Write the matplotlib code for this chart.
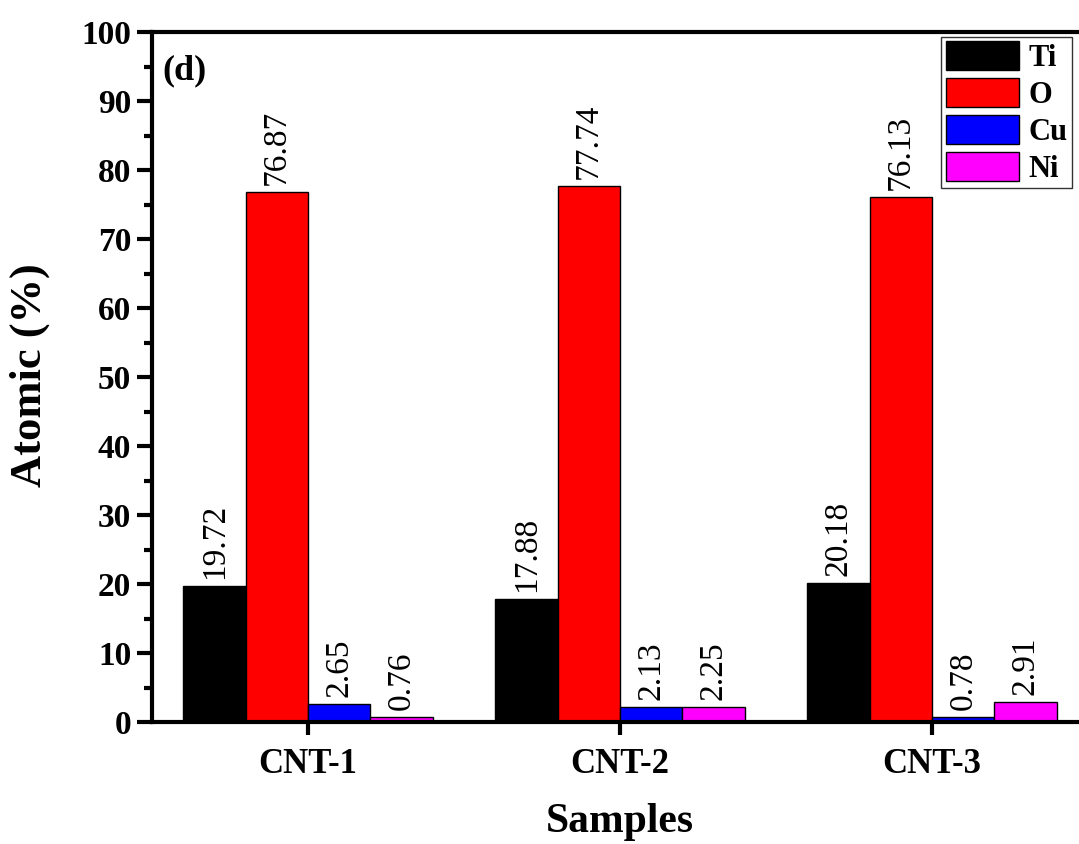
import matplotlib.pyplot as plt
import numpy as np
from matplotlib.ticker import MultipleLocator

plt.rcParams['font.family'] = ['Liberation Serif', 'DejaVu Serif']

samples = ['CNT-1', 'CNT-2', 'CNT-3']
elements = ['Ti', 'O', 'Cu', 'Ni']
ti = [19.72, 17.88, 20.18]
o = [76.87, 77.74, 76.13]
cu = [2.65, 2.13, 0.78]
ni = [0.76, 2.25, 2.91]
colors = ['#000000', '#ff0000', '#0000ff', '#ff00ff']

fig = plt.figure(figsize=(10.79, 8.44), dpi=100)
ax = fig.add_axes([0.1409, 0.1445, 0.8674, 0.8175])

x = np.arange(1, len(samples) + 1)
w = 0.2
series = [ti, o, cu, ni]
for i, (vals, name, c) in enumerate(zip(series, elements, colors)):
    bars = ax.bar(x + (i - 1.5) * w, vals, w, color=c, edgecolor='black',
                  linewidth=1, label=name)
    for b, v in zip(bars, vals):
        ax.text(b.get_x() + b.get_width() / 2, v + 1.0, '%.2f' % v,
                rotation=90, ha='center', va='bottom', fontsize=24)

ax.set_xlim(0.5, 3.5)
ax.set_ylim(0, 100)
ax.set_xticks(x)
ax.set_xticklabels(samples, fontsize=25, fontweight='bold')
ax.yaxis.set_major_locator(MultipleLocator(10))
ax.yaxis.set_minor_locator(MultipleLocator(5))
for lab in ax.get_yticklabels():
    lab.set_fontsize(24)
    lab.set_fontweight('bold')

for s in ax.spines.values():
    s.set_linewidth(3)
ax.tick_params(axis='y', which='major', length=11, width=3, direction='out', pad=4)
ax.tick_params(axis='y', which='minor', length=6, width=3, direction='out')
ax.tick_params(axis='x', which='major', length=9, width=3, direction='out', pad=10)

ax.set_ylabel('Atomic (%)', fontsize=32, fontweight='bold', va='center')
ax.yaxis.set_label_coords(-0.131, 0.503)
ax.set_xlabel('Samples', fontsize=30, fontweight='bold', va='center')
ax.xaxis.set_label_coords(0.5, -0.145)

ax.text(0.011, 0.968, '(d)', transform=ax.transAxes, fontsize=26,
        fontweight='bold', ha='left', va='top')

leg = ax.legend(loc='upper left', bbox_to_anchor=(0.843, 0.993), borderaxespad=0,
                prop={'size': 22, 'weight': 'bold'}, frameon=True, fancybox=False,
                edgecolor='black', handlelength=2.4, handleheight=1.08,
                labelspacing=0.16, handletextpad=0.3, borderpad=0.15)
leg.get_frame().set_linewidth(1)

fig.savefig('out.png', dpi=100)
